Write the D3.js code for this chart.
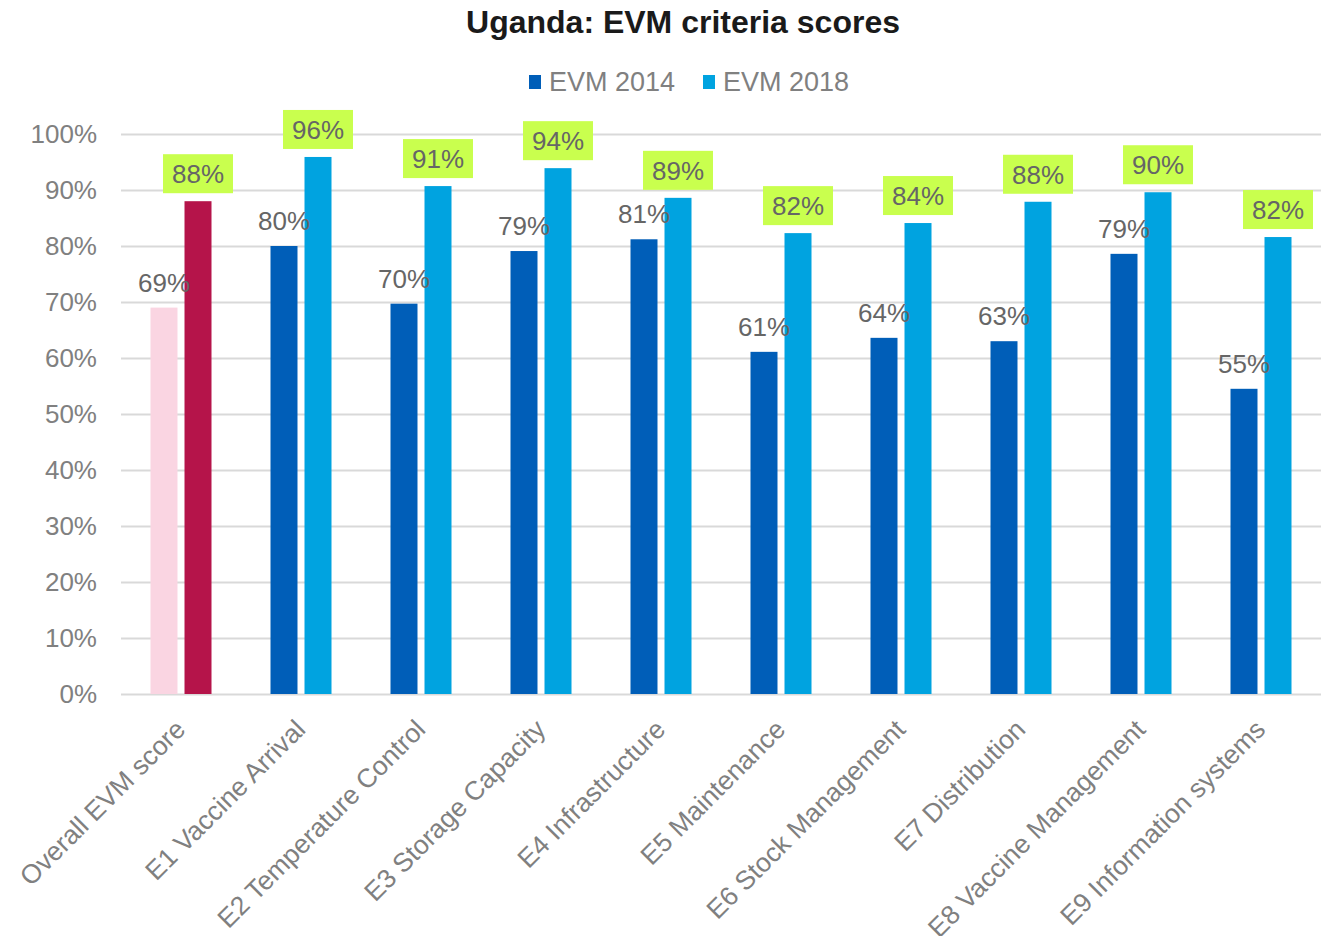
<!DOCTYPE html>
<html>
<head>
<meta charset="utf-8">
<script src="https://cdn.jsdelivr.net/npm/d3@7"></script>
<style>
  body { margin: 0; background: #fff; }
  svg { font-family: "Liberation Sans", Arial, sans-serif; }
</style>
</head>
<body>
<svg id="chart" width="1329" height="936"></svg>
<script>
var categories = ["Overall EVM score", "E1 Vaccine Arrival", "E2 Temperature Control", "E3 Storage Capacity",
    "E4 Infrastructure", "E5 Maintenance", "E6 Stock Management", "E7 Distribution",
    "E8 Vaccine Management", "E9 Information systems"];
var series = ["EVM 2014", "EVM 2018"];
var values2014 = [0.69, 0.80, 0.697, 0.791, 0.812, 0.611, 0.636, 0.63, 0.786, 0.545];
var values2018 = [0.88, 0.959, 0.907, 0.939, 0.886, 0.823, 0.841, 0.879, 0.896, 0.816];
var yTicks = [0, 0.1, 0.2, 0.3, 0.4, 0.5, 0.6, 0.7, 0.8, 0.9, 1.0];

var colors = { "EVM 2014": "#005EB8", "EVM 2018": "#00A3E0" };
var overallColors = { "EVM 2014": "#FAD5E2", "EVM 2018": "#B5144A" };

var margins = { left: 121, right: 8, top: 134, bottom: 242 };
var width = 1329, height = 936;

var svg = d3.select("#chart");

var xScale = d3.scaleBand()
    .domain(categories)
    .range([margins.left, width - margins.right])
    .paddingInner(0)
    .paddingOuter(0);
var xSub = d3.scaleBand()
    .domain(series)
    .range([-30.5, 30.5])
    .paddingInner(0.206);
var yScale = d3.scaleLinear()
    .domain([0, 1])
    .range([height - margins.bottom, margins.top]);

// title
svg.append("text")
    .attr("x", 683).attr("y", 33)
    .attr("text-anchor", "middle")
    .style("font-size", "32px").style("font-weight", "bold").style("fill", "#1a1a1a")
    .text("Uganda: EVM criteria scores");

// legend
var legendX = [529, 703];
series.forEach(function(s, i){
    svg.append("rect")
        .attr("x", legendX[i]).attr("y", 75).attr("width", 12).attr("height", 14)
        .style("fill", colors[s]);
    svg.append("text")
        .attr("x", legendX[i] + 20).attr("y", 91)
        .style("font-size", "27px").style("fill", "#808080")
        .text(s);
});

// gridlines + y axis
var yAxis = svg.append("g")
    .attr("transform", `translate(${margins.left}, 0)`)
    .call(d3.axisLeft(yScale)
        .tickValues(yTicks)
        .tickFormat(d3.format(".0%"))
        .tickSize(-(width - margins.left - margins.right))
        .tickPadding(24));
yAxis.select(".domain").remove();
yAxis.selectAll(".tick line").style("stroke", "#d9d9d9").style("stroke-width", 2);
yAxis.selectAll(".tick text").style("font-size", "26px").style("fill", "#808080");

// bars
var groups = svg.append("g").selectAll("g")
    .data(categories)
    .enter()
    .append("g")
    .attr("transform", function(d){
        return `translate(${xScale(d) + xScale.bandwidth() / 2}, 0)`;
    });

groups.each(function(cat, i){
    var g = d3.select(this);
    var rows = [
        { s: "EVM 2014", v: values2014[i] },
        { s: "EVM 2018", v: values2018[i] }
    ];
    rows.forEach(function(r){
        var fill = i === 0 ? overallColors[r.s] : colors[r.s];
        g.append("rect")
            .attr("x", xSub(r.s))
            .attr("y", yScale(r.v))
            .attr("width", xSub.bandwidth())
            .attr("height", yScale(0) - yScale(r.v))
            .style("fill", fill);
    });

    // 2014 label
    var x14 = xSub("EVM 2014") + xSub.bandwidth() / 2;
    g.append("text")
        .attr("x", x14)
        .attr("y", yScale(values2014[i]) - 16)
        .attr("text-anchor", "middle")
        .style("font-size", "26px").style("fill", "#666666")
        .text(d3.format(".0%")(values2014[i]));

    // 2018 label in highlight box
    var x18 = xSub("EVM 2018") + xSub.bandwidth() / 2;
    var top18 = yScale(values2018[i]);
    g.append("rect")
        .attr("x", x18 - 35)
        .attr("y", top18 - 47)
        .attr("width", 70)
        .attr("height", 39)
        .style("fill", "#C9FF4E");
    g.append("text")
        .attr("x", x18)
        .attr("y", top18 - 18)
        .attr("text-anchor", "middle")
        .style("font-size", "26px").style("fill", "#666666")
        .text(d3.format(".0%")(values2018[i]));
});

// x axis labels
var xAxis = svg.append("g")
    .attr("transform", `translate(0, ${yScale(0)})`)
    .call(d3.axisBottom(xScale).tickSize(0).tickPadding(0));
xAxis.select(".domain").remove();
xAxis.selectAll(".tick text")
    .attr("text-anchor", "end")
    .attr("dy", 0)
    .attr("transform", "translate(6, 37) rotate(-45)")
    .style("font-size", "26.5px").style("fill", "#808080");
</script>
</body>
</html>
